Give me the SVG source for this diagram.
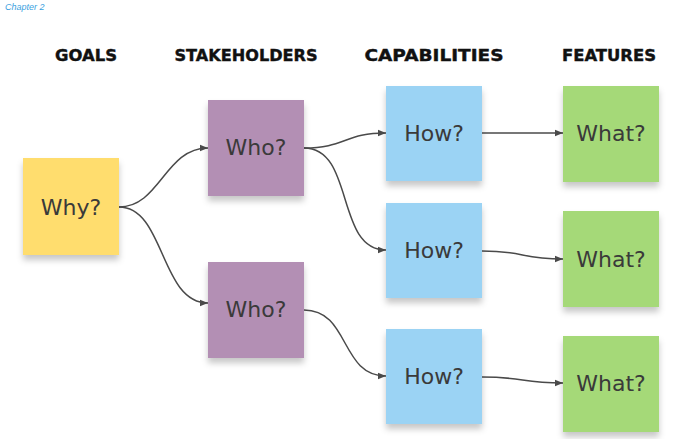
<svg xmlns="http://www.w3.org/2000/svg" width="674" height="439" viewBox="0 0 674 439">
<style>
.hdr{font-family:"DejaVu Sans",sans-serif;font-weight:bold;font-size:16px;fill:#111;text-anchor:middle;stroke:#111;stroke-width:0.4}
.lbl{font-family:"DejaVu Sans",sans-serif;font-size:22px;fill:#3a3a3a;text-anchor:middle;dominant-baseline:central}
.conn{fill:none;stroke:#4a4a4a;stroke-width:1.5}
.y{fill:#ffdd6e}.p{fill:#b38fb4}.b{fill:#9bd3f4}.g{fill:#a5d978}
</style>
<defs>
<filter id="sh" x="-20%" y="-20%" width="140%" height="150%">
<feDropShadow dx="0" dy="5" stdDeviation="3" flood-color="#000" flood-opacity="0.22"/>
</filter>
<marker id="ah" viewBox="0 0 10 10" refX="10" refY="5" markerWidth="8" markerHeight="8" markerUnits="userSpaceOnUse" orient="auto">
<path d="M0,1 L10,5 L0,9 Z" fill="#4a4a4a"/>
</marker>
</defs>
<rect width="674" height="439" fill="#fff"/>
<text x="5" y="10" font-family="Liberation Sans,sans-serif" font-style="italic" font-size="9" fill="#3a9fe0">Chapter 2</text>
<g id="headers">
<text class="hdr" x="86" y="61" textLength="62" lengthAdjust="spacingAndGlyphs">GOALS</text>
<text class="hdr" x="246" y="61" textLength="143" lengthAdjust="spacingAndGlyphs">STAKEHOLDERS</text>
<text class="hdr" x="434" y="61" textLength="139" lengthAdjust="spacingAndGlyphs">CAPABILITIES</text>
<text class="hdr" x="609" y="61" textLength="94" lengthAdjust="spacingAndGlyphs">FEATURES</text>
</g>
<g id="connectors">
<path class="conn" marker-end="url(#ah)" d="M119,207 C160,207 165,148 208,148"/>
<path class="conn" marker-end="url(#ah)" d="M119,207 C165,207 160,303 208,303"/>
<path class="conn" marker-end="url(#ah)" d="M304,148 C345,148 345,133 386,133"/>
<path class="conn" marker-end="url(#ah)" d="M304,148 C355,148 335,250 386,250"/>
<path class="conn" marker-end="url(#ah)" d="M304,310 C350,310 340,376 386,376"/>
<path class="conn" marker-end="url(#ah)" d="M482,133 L563,133"/>
<path class="conn" marker-end="url(#ah)" d="M482,251 C525,251 520,259 563,259"/>
<path class="conn" marker-end="url(#ah)" d="M482,377 C525,377 520,383 563,383"/>
</g>
<g id="why"><rect class="y" x="23" y="158" width="96" height="97" filter="url(#sh)"/><text class="lbl" x="71" y="207">Why?</text></g>
<g id="who1"><rect class="p" x="208" y="100" width="96" height="96" filter="url(#sh)"/><text class="lbl" x="256" y="147">Who?</text></g>
<g id="who2"><rect class="p" x="208" y="262" width="96" height="96" filter="url(#sh)"/><text class="lbl" x="256" y="309">Who?</text></g>
<g id="how1"><rect class="b" x="386" y="86" width="96" height="95" filter="url(#sh)"/><text class="lbl" x="434" y="133">How?</text></g>
<g id="how2"><rect class="b" x="386" y="203" width="96" height="95" filter="url(#sh)"/><text class="lbl" x="434" y="250">How?</text></g>
<g id="how3"><rect class="b" x="386" y="329" width="96" height="95" filter="url(#sh)"/><text class="lbl" x="434" y="376">How?</text></g>
<g id="what1"><rect class="g" x="563" y="86" width="96" height="96" filter="url(#sh)"/><text class="lbl" x="611" y="133">What?</text></g>
<g id="what2"><rect class="g" x="563" y="211" width="96" height="96" filter="url(#sh)"/><text class="lbl" x="611" y="259">What?</text></g>
<g id="what3"><rect class="g" x="563" y="336" width="96" height="96" filter="url(#sh)"/><text class="lbl" x="611" y="383">What?</text></g>
</svg>
